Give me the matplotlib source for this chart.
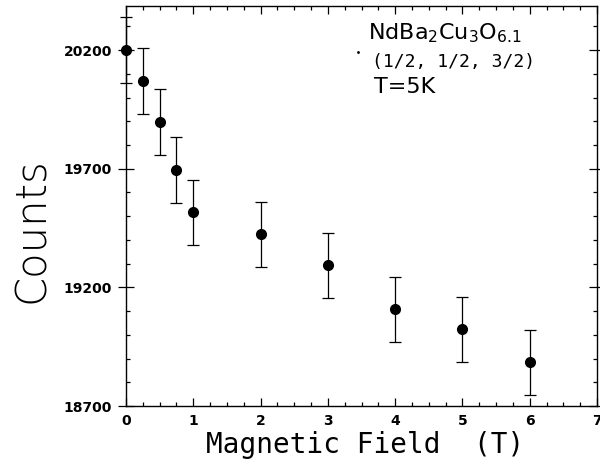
import matplotlib
matplotlib.use("Agg")
import matplotlib.pyplot as plt
from matplotlib.ticker import MultipleLocator

plt.rcParams['mathtext.fontset'] = 'custom'
plt.rcParams['mathtext.rm'] = 'DejaVu Sans Mono'

# field (T), counts, error
field = [0, 0.25, 0.5, 0.75, 1, 2, 3, 4, 5, 6]
counts = [20200, 20069, 19898, 19693, 19517, 19424, 19294, 19109, 19024, 18885]
errors = [139, 139, 139, 139, 137, 137, 137, 137, 137, 137]

fig = plt.figure(figsize=(6, 4.69), dpi=100)
ax = fig.add_axes([0.21, 0.134, 0.785, 0.853])

ax.errorbar(field, counts, yerr=errors, fmt='o', color='black', ms=7,
            ecolor='black', elinewidth=0.9, capsize=4, capthick=0.9, clip_on=False)

ax.set_xlim(0, 7)
ax.set_ylim(18700, 20385)
ax.xaxis.set_major_locator(MultipleLocator(1))
ax.xaxis.set_minor_locator(MultipleLocator(0.25))
ax.yaxis.set_major_locator(MultipleLocator(500, offset=200))
ax.yaxis.set_minor_locator(MultipleLocator(100))
ax.tick_params(axis='both', which='both', direction='in', top=True, right=True,
               labelsize=10, width=0.9)
ax.tick_params(axis='both', which='major', length=6)
ax.tick_params(axis='both', which='minor', length=3)
ax.tick_params(axis='y', which='major', direction='inout', length=12, pad=4)
ax.tick_params(axis='x', which='major', pad=6)
for lab in ax.get_xticklabels() + ax.get_yticklabels():
    lab.set_fontweight('bold')
for s in ax.spines.values():
    s.set_linewidth(1.0)

ax.set_xlabel('Magnetic Field  (T)', fontsize=20, family='DejaVu Sans Mono',
              fontweight='light')
ax.xaxis.set_label_coords(0.507, -0.062)
ax.set_ylabel('Counts', fontsize=30, family='DejaVu Sans', fontweight='light')
ax.yaxis.set_label_coords(-0.158, 0.44)

ax.text(3.6, 20245, '$\\mathregular{NdBa_2Cu_3O_{6.1}}$', fontsize=16)
ax.plot([3.45], [20190], marker='.', color='black', ms=2)
ax.text(3.65, 20130, '(1/2, 1/2, 3/2)', fontsize=13, family='DejaVu Sans Mono')
ax.text(3.68, 20020, 'T=5K', fontsize=16)

fig.savefig('out.png', dpi=100)
